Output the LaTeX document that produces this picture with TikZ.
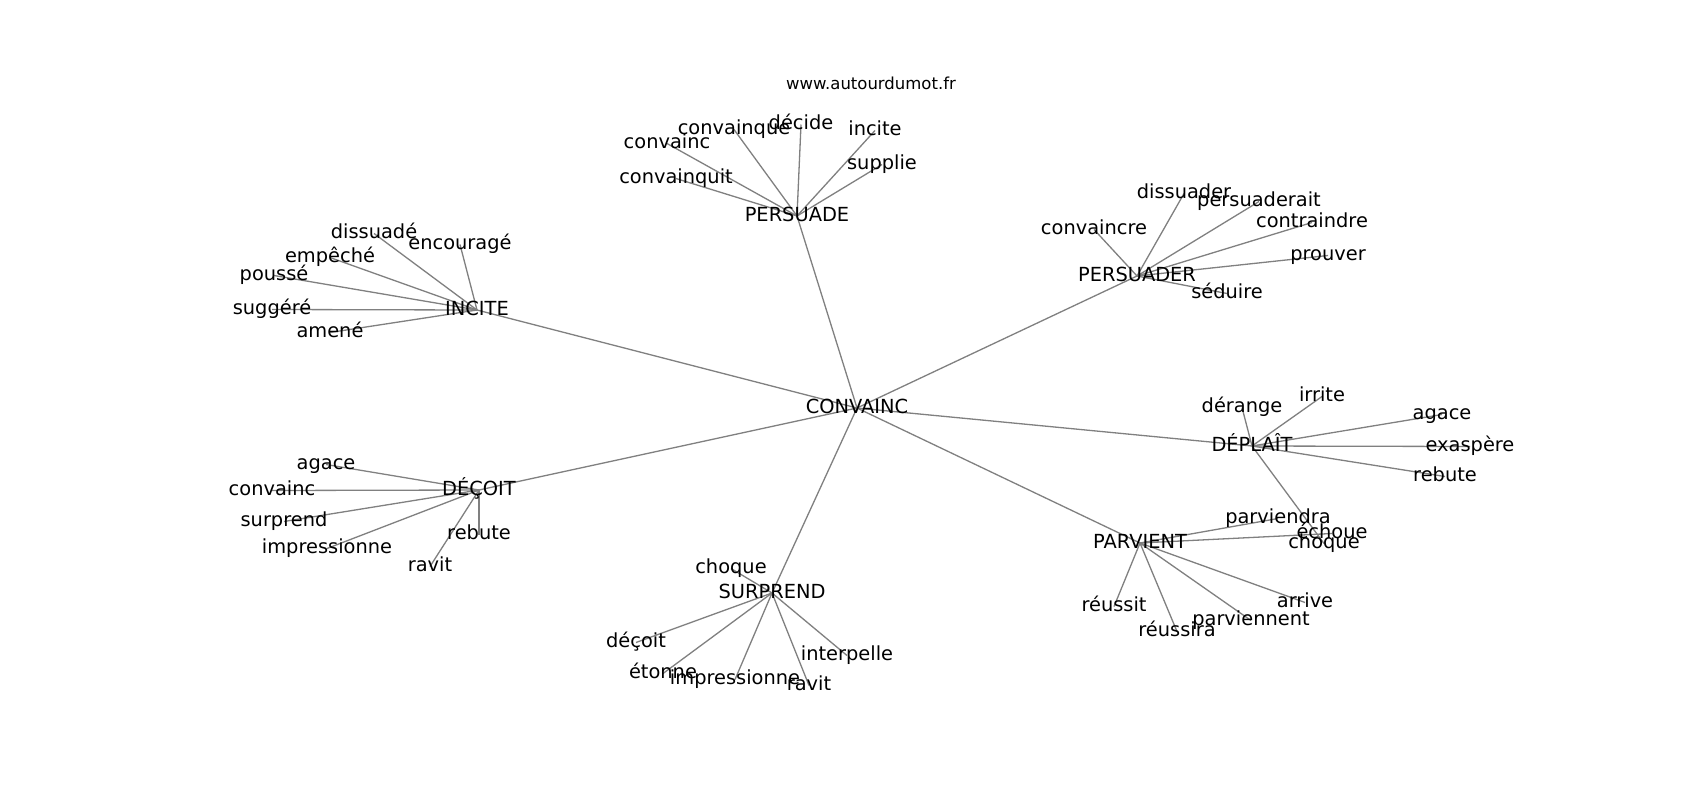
\documentclass[tikz,border=0pt]{standalone}
\usepackage{fontspec}
\setmainfont{DejaVu Sans}
\pgfdeclarelayer{bg}
\pgfsetlayers{bg,main}
\definecolor{edgegray}{HTML}{808080}
\tikzset{
  lbl/.style={font=\fontsize{19.4}{23}\selectfont, inner sep=0pt, text height=14.7pt, text depth=4.1pt, anchor=center, yshift=-1.5pt},
  hub/.style={lbl, yshift=0.5pt},
  titlestyle/.style={font=\fontsize{16.5}{20}\selectfont, inner sep=0pt, anchor=base},
  edge/.style={draw=edgegray, line width=1.3pt}
}
\begin{document}
\begin{tikzpicture}[x=1pt,y=-1pt]
\useasboundingbox (0,0) rectangle (1700,800);
\node[titlestyle] (title) at (871,89) {www.autourdumot.fr};
% centre
\node[hub] (C) at (857,407) {CONVAINC};
% PERSUADE
\node[hub] (PE) at (797,215) {PERSUADE};
\node[lbl] (pe1) at (667,142) {convainc};
\node[lbl] (pe2) at (734,128) {convainque};
\node[lbl] (pe3) at (801,123) {décide};
\node[lbl] (pe4) at (875,129) {incite};
\node[lbl] (pe5) at (882,163) {supplie};
\node[lbl] (pe6) at (676,177) {convainquit};
% PERSUADER
\node[hub] (PR) at (1137,275) {PERSUADER};
\node[lbl] (pr1) at (1184,192) {dissuader};
\node[lbl] (pr2) at (1259,200) {persuaderait};
\node[lbl] (pr3) at (1312,221) {contraindre};
\node[lbl] (pr4) at (1328,254) {prouver};
\node[lbl] (pr5) at (1227,292) {séduire};
\node[lbl] (pr6) at (1094,228) {convaincre};
% INCITE
\node[hub] (IN) at (477,309) {INCITE};
\node[lbl] (in1) at (374,232) {dissuadé};
\node[lbl] (in2) at (460,243) {encouragé};
\node[lbl] (in3) at (330,256) {empêché};
\node[lbl] (in4) at (274,274) {poussé};
\node[lbl] (in5) at (272,308) {suggéré};
\node[lbl] (in6) at (330,331) {amené};
% DEPLAIT
\node[hub] (DP) at (1252,445) {DÉPLAÎT};
\node[lbl] (dp1) at (1242,406) {dérange};
\node[lbl] (dp2) at (1322,395) {irrite};
\node[lbl] (dp3) at (1442,413) {agace};
\node[lbl] (dp4) at (1470,445) {exaspère};
\node[lbl] (dp5) at (1445,475) {rebute};
\node[lbl] (dp6) at (1324,542) {choque};
% PARVIENT
\node[hub] (PA) at (1140,542) {PARVIENT};
\node[lbl] (pa1) at (1278,517) {parviendra};
\node[lbl] (pa2) at (1332,532) {échoue};
\node[lbl] (pa3) at (1305,601) {arrive};
\node[lbl] (pa4) at (1251,619) {parviennent};
\node[lbl] (pa5) at (1177,630) {réussira};
\node[lbl] (pa6) at (1114,605) {réussit};
% DECOIT
\node[hub] (DE) at (479,489) {DÉÇOIT};
\node[lbl] (de1) at (326,463) {agace};
\node[lbl] (de2) at (272,489) {convainc};
\node[lbl] (de3) at (284,520) {surprend};
\node[lbl] (de4) at (327,547) {impressionne};
\node[lbl] (de5) at (479,533) {rebute};
\node[lbl] (de6) at (430,565) {ravit};
% SURPREND
\node[hub] (SU) at (772,592) {SURPREND};
\node[lbl] (su1) at (731,567) {choque};
\node[lbl] (su2) at (636,641) {déçoit};
\node[lbl] (su3) at (663,672) {étonne};
\node[lbl] (su4) at (735,678) {impressionne};
\node[lbl] (su5) at (809,684) {ravit};
\node[lbl] (su6) at (847,654) {interpelle};
\begin{pgfonlayer}{bg}
\fill[white] (0,0) rectangle (1700,800);
\foreach \a/\b in {C/PE,C/PR,C/IN,C/DP,C/PA,C/DE,C/SU,
  PE/pe1,PE/pe2,PE/pe3,PE/pe4,PE/pe5,PE/pe6,
  PR/pr1,PR/pr2,PR/pr3,PR/pr4,PR/pr5,PR/pr6,
  IN/in1,IN/in2,IN/in3,IN/in4,IN/in5,IN/in6,
  DP/dp1,DP/dp2,DP/dp3,DP/dp4,DP/dp5,DP/dp6,
  PA/pa1,PA/pa2,PA/pa3,PA/pa4,PA/pa5,PA/pa6,
  DE/de1,DE/de2,DE/de3,DE/de4,DE/de5,DE/de6,
  SU/su1,SU/su2,SU/su3,SU/su4,SU/su5,SU/su6}
  \draw[edge] (\a.center) -- (\b.center);
\end{pgfonlayer}
\end{tikzpicture}
\end{document}
